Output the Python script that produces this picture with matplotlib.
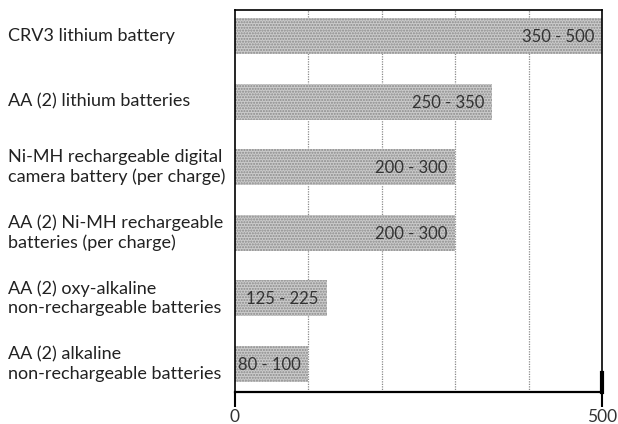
import matplotlib
matplotlib.use("Agg")
import matplotlib.pyplot as plt
import matplotlib.transforms as mtransforms
import numpy as np

# Approximate number of pictures per battery type
categories = [
    "CRV3 lithium battery",
    "AA (2) lithium batteries",
    "Ni-MH rechargeable digital\ncamera battery (per charge)",
    "AA (2) Ni-MH rechargeable\nbatteries (per charge)",
    "AA (2) oxy-alkaline\nnon-rechargeable batteries",
    "AA (2) alkaline\nnon-rechargeable batteries",
]
range_low = [350, 250, 200, 200, 125, 80]
range_high = [500, 350, 300, 300, 225, 100]
bar_length = [500, 350, 300, 300, 125, 100]
x_ticks = [0, 500]
grid_values = [100, 200, 300, 400]

font = ["Lato", "DejaVu Sans"]
text_color = "#222222"

fig = plt.figure(figsize=(6.18, 4.24), dpi=100)
ax = fig.add_axes([235 / 618, 32 / 424, 367 / 618, 382 / 424])

y = np.arange(len(categories))
ax.barh(y, bar_length, height=0.55, color="#cbcbcb", edgecolor="#8a8a8a",
        linewidth=0, hatch="......", zorder=2)

ax.set_xlim(0, 500)
ax.set_ylim(5.43, -0.40)

# dotted vertical guides
for g in grid_values:
    ax.axvline(g, color="#8a8a8a", lw=0.9, ls=(0, (1, 1)), zorder=1)

for side in ("left", "top", "right"):
    ax.spines[side].set_linewidth(1.2)
    ax.spines[side].set_color("black")
ax.spines["bottom"].set_linewidth(1.6)
ax.spines["bottom"].set_color("black")
ax.axvline(500, 0, 0.05, color="black", lw=3, zorder=5, clip_on=False)

ax.set_yticks([])
ax.set_xticks(x_ticks)
ax.set_xticklabels([str(t) for t in x_ticks], family=font,
                   fontsize=12.5, color="#333333")
ax.tick_params(axis="x", direction="out", length=11, width=1.5, pad=1,
               colors="black", labelcolor="#333333")

# category labels in the left margin
trans = mtransforms.blended_transform_factory(fig.transFigure, ax.transData)
for i, lab in enumerate(categories):
    ax.text(8 / 618, i, lab, transform=trans, ha="left", va="center",
            family=font, fontsize=13, color=text_color,
            linespacing=1.28)

# range labels inside bars
for i, (lo, hi, L) in enumerate(zip(range_low, range_high, bar_length)):
    ax.annotate(f"{lo} - {hi}", xy=(L, i), xytext=(-8, -1),
                textcoords="offset pixels", ha="right", va="center",
                family=font, fontsize=12, color="#333333", zorder=4)

fig.savefig("out.png", dpi=100)
